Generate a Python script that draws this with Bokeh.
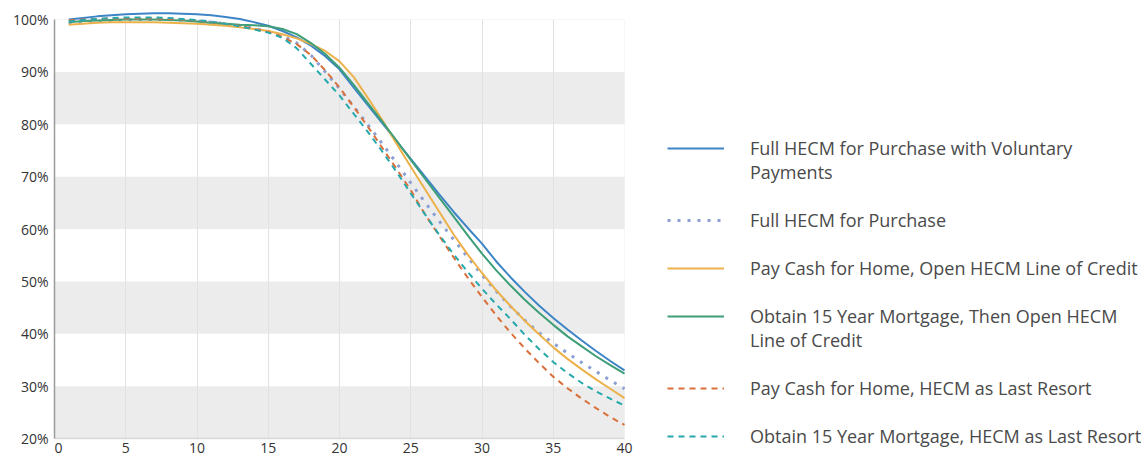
from bokeh.plotting import figure
from bokeh.models import (ColumnDataSource, FixedTicker, BoxAnnotation, Range1d,
                          Legend, LegendItem)
from bokeh.core.properties import value
from bokeh.embed import file_html
from bokeh.resources import INLINE

years = list(range(1, 41))

full_hecm_voluntary = [100.0, 100.3, 100.6, 100.8, 101.0, 101.1, 101.2, 101.2, 101.1, 101.0,
                       100.8, 100.5, 100.1, 99.5, 98.8, 97.8, 96.6, 95.0, 93.0, 90.5,
                       87.0, 83.6, 80.2, 76.8, 73.4, 70.0, 66.6, 63.3, 60.2, 57.2,
                       53.8, 50.8, 48.0, 45.4, 43.0, 40.8, 38.7, 36.7, 34.8, 33.0]
full_hecm = [99.2, 99.4, 99.6, 99.8, 99.9, 100.0, 100.0, 100.0, 99.9, 99.7,
             99.5, 99.2, 98.8, 98.3, 97.7, 96.9, 95.5, 93.2, 90.0, 86.8,
             83.4, 79.9, 76.3, 72.6, 68.8, 65.1, 61.5, 58.0, 54.6, 51.2,
             48.1, 45.2, 42.6, 40.2, 38.2, 36.3, 34.5, 32.8, 31.1, 29.5]
cash_loc = [99.0, 99.2, 99.4, 99.5, 99.5, 99.5, 99.5, 99.4, 99.3, 99.2,
            99.0, 98.8, 98.5, 98.2, 97.8, 97.2, 96.4, 95.3, 94.0, 92.0,
            89.0, 85.0, 80.8, 76.3, 71.9, 67.6, 63.3, 59.0, 55.1, 51.6,
            48.3, 45.3, 42.5, 39.9, 37.4, 35.2, 33.2, 31.3, 29.5, 27.7]
mortgage_loc = [99.5, 99.7, 99.8, 99.9, 100.0, 100.0, 100.0, 99.9, 99.8, 99.6,
                99.4, 99.2, 99.0, 98.9, 98.7, 98.2, 97.2, 95.5, 93.4, 90.8,
                87.5, 84.0, 80.5, 76.9, 73.2, 69.6, 66.0, 62.4, 58.8, 55.3,
                52.1, 49.2, 46.5, 44.0, 41.7, 39.5, 37.6, 35.7, 34.0, 32.4]
cash_last = [99.8, 100.0, 100.1, 100.2, 100.2, 100.2, 100.2, 100.1, 100.0, 99.8,
             99.5, 99.2, 98.8, 98.2, 97.6, 96.7, 95.3, 93.2, 90.3, 87.0,
             83.3, 79.5, 75.5, 71.5, 67.4, 62.8, 58.7, 54.6, 50.7, 47.0,
             43.5, 40.2, 37.2, 34.4, 31.8, 29.6, 27.6, 25.8, 24.1, 22.6]
mortgage_last = [99.6, 99.9, 100.1, 100.3, 100.4, 100.4, 100.4, 100.3, 100.1, 99.9,
                 99.6, 99.2, 98.7, 98.1, 97.5, 96.5, 94.5, 91.5, 88.5, 85.5,
                 82.0, 78.5, 74.8, 70.9, 66.8, 62.8, 58.9, 55.2, 51.8, 48.6,
                 45.6, 42.8, 39.8, 37.1, 34.6, 32.5, 30.6, 29.0, 27.6, 26.3]

series_labels = [
    ["Full HECM for Purchase with Voluntary", "Payments"],
    ["Full HECM for Purchase"],
    ["Pay Cash for Home, Open HECM Line of Credit"],
    ["Obtain 15 Year Mortgage, Then Open HECM", "Line of Credit"],
    ["Pay Cash for Home, HECM as Last Resort"],
    ["Obtain 15 Year Mortgage, HECM as Last Resort"],
]
series_values = [full_hecm_voluntary, full_hecm, cash_loc, mortgage_loc, cash_last, mortgage_last]
x_ticks = [0, 5, 10, 15, 20, 25, 30, 35, 40]
x_tick_labels = ["0", "5", "10", "15", "20", "25", "30", "35", "40"]
y_ticks = [20, 30, 40, 50, 60, 70, 80, 90, 100]

colors = ["#3d85c6", "#8c9fd4", "#ecb14a", "#3d9e77", "#d9703a", "#26a9ad"]
dashes = ["solid", "3 7", "solid", "solid", "6 5", "6 5"]
widths = [2, 3, 2, 2, 2, 2]

FONT = "Open Sans"

# frame spans the full width to the right so the legend can sit inside it;
# the chart itself occupies x in [0, 40]
p = figure(width=1146, height=460, output_backend="svg", toolbar_location=None,
           x_range=Range1d(0, 76.63), y_range=Range1d(15.8, 101.53),
           min_border_left=54, min_border_top=11, min_border_right=0, min_border_bottom=0)
p.outline_line_color = None
p.xaxis.visible = False

bands = [BoxAnnotation(left=0, right=40, bottom=lo, top=lo + 10, fill_color="#ebeceb",
                       fill_alpha=1.0, line_color=None, level="underlay")
         for lo in [20, 40, 60, 80]]
mask_top = BoxAnnotation(bottom=100, fill_color="white", fill_alpha=1.0, line_color=None,
                         level="underlay")
mask_bottom = BoxAnnotation(top=20, fill_color="white", fill_alpha=1.0, line_color=None,
                            level="underlay")
border = BoxAnnotation(left=0, right=40, bottom=20, top=100, fill_alpha=0.0,
                       line_color="#e4e4e4", line_width=1, level="underlay")
x_axis_line = BoxAnnotation(left=0, right=40, bottom=20, top=20, fill_alpha=0.0,
                            line_color="#9a9a9a", line_width=1.5, level="underlay")

p.xgrid.ticker = FixedTicker(ticks=x_ticks[1:-1])
p.xgrid.grid_line_color = "#e2e2e2"
p.ygrid.grid_line_color = None
p.center = bands + list(p.center) + [mask_top, mask_bottom, border, x_axis_line]

p.yaxis.ticker = FixedTicker(ticks=y_ticks)
p.yaxis.bounds = (20, 100)
p.yaxis.major_label_overrides = {v: f"{v}%" for v in y_ticks}
p.yaxis.axis_line_color = "#9a9a9a"
p.yaxis.axis_line_width = 1.5
p.yaxis.major_tick_line_color = None
p.yaxis.minor_tick_line_color = None
p.yaxis.major_tick_out = 0
p.yaxis.major_tick_in = 0
p.yaxis.major_label_text_font = FONT
p.yaxis.major_label_text_font_size = "14px"
p.yaxis.major_label_text_color = "#333333"
p.yaxis.major_label_standoff = 6

# x tick labels, drawn below the 20% baseline
tick_src = ColumnDataSource(dict(x=x_ticks, y=[20] * len(x_ticks), t=x_tick_labels,
                                 dx=[4] + [0] * (len(x_ticks) - 1)))
p.text(x="x", y="y", text="t", x_offset="dx", y_offset=4, source=tick_src,
       text_font=value(FONT), text_font_size="14px", text_color="#333333",
       text_align="center", text_baseline="top")

renderers = []
for vals, c, d, w in zip(series_values, colors, dashes, widths):
    src = ColumnDataSource(dict(x=years, y=vals))
    r = p.line("x", "y", source=src, line_color=c, line_width=w, line_dash=d, line_cap="butt")
    renderers.append(r)

# an invisible renderer for legend rows that carry only text
blank = p.line(x=[], y=[], line_alpha=0)

items = []
for i, (r, lab) in enumerate(zip(renderers, series_labels)):
    items.append(LegendItem(label=lab[0], renderers=[r]))
    for extra in lab[1:]:
        items.append(LegendItem(label=extra, renderers=[blank]))
    if i < len(renderers) - 1:
        items.append(LegendItem(label=" ", renderers=[blank]))

legend = Legend(items=items, location=(613, 12), orientation="vertical",
                glyph_width=57, glyph_height=24, label_height=24, spacing=0,
                label_standoff=26, padding=0, margin=0,
                border_line_color=None, background_fill_alpha=0.0,
                label_text_font=FONT, label_text_font_size="18px",
                label_text_color="#4a4a4a")
p.add_layout(legend, "center")

open("out.html", "w").write(file_html(p, INLINE))
